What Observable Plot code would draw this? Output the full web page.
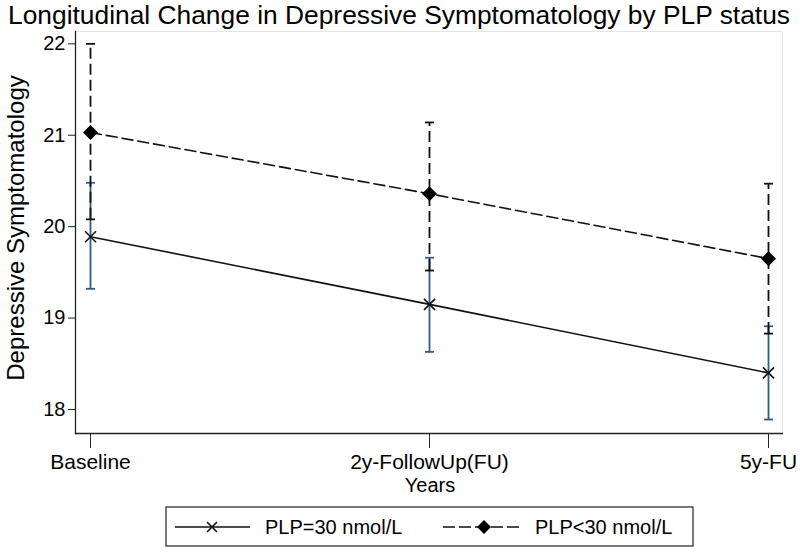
<!DOCTYPE html>
<html>
<head>
<meta charset="utf-8">
<script src="https://cdn.jsdelivr.net/npm/d3@7"></script>
<script src="https://cdn.jsdelivr.net/npm/@observablehq/plot@0.6"></script>
<style>
  html, body { margin: 0; padding: 0; background: #fff; }
  svg { display: block; }
</style>
</head>
<body>
<div id="chart"></div>
<script>
// ---- Data ----
const categories = ["Baseline", "2y-FollowUp(FU)", "5y-FU"];
const seriesNames = ["PLP=30 nmol/L", "PLP<30 nmol/L"];
// PLP=30 nmol/L (solid line, x markers, blue CIs)
const highMean = [19.89, 19.15, 18.40];
const highLo   = [19.32, 18.63, 17.89];
const highHi   = [20.48, 19.66, 18.91];
// PLP<30 nmol/L (dashed line, diamond markers, dashed CIs)
const lowMean  = [21.03, 20.36, 19.65];
const lowLo    = [20.08, 19.52, 18.83];
const lowHi    = [22.00, 21.14, 20.47];
const yTicks   = [18, 19, 20, 21, 22];

const title = "Longitudinal Change in Depressive Symptomatology by PLP status";
const yLabel = "Depressive Symptomatology";
const xLabel = "Years";

// ---- Build tables ----
const high = categories.map((c, i) => ({cat: c, mean: highMean[i], lo: highLo[i], hi: highHi[i]}));
const low  = categories.map((c, i) => ({cat: c, mean: lowMean[i], lo: lowLo[i], hi: lowHi[i]}));

// ---- Custom symbols ----
const capSymbol = { draw(ctx) { ctx.moveTo(-4.5, 0); ctx.lineTo(4.5, 0); } };
const timesSymbol = { draw(ctx) { const h = 5.5; ctx.moveTo(-h, -h); ctx.lineTo(h, h); ctx.moveTo(-h, h); ctx.lineTo(h, -h); } };
const diamondSymbol = { draw(ctx) { const h = 7.5; ctx.moveTo(0, -h); ctx.lineTo(h, 0); ctx.lineTo(0, h); ctx.lineTo(-h, 0); ctx.closePath(); } };

const FONT = "'Liberation Sans', Arial, Helvetica, sans-serif";
const blue = "#2f5d88";
const dash = "11,5";

const svg = Plot.plot({
  width: 800,
  height: 553,
  marginTop: 31,
  marginBottom: 120,
  marginLeft: 75,
  marginRight: 18,
  style: { fontFamily: FONT, background: "#fff", color: "#000" },
  x: { type: "point", domain: categories, padding: 0.04, label: null },
  y: { domain: [17.737, 22.135], label: null },
  marks: [
    Plot.frame({ stroke: "#e6e6e6", strokeWidth: 1 }),
    // axes
    Plot.axisY({ ticks: yTicks, tickSize: 7, tickPadding: 3, fontSize: 20, tickFormat: d => d, stroke: "#222", color: "#000", label: null }),
    Plot.axisX({ tickSize: 15, tickPadding: 6, fontSize: 21, stroke: "#222", label: null }),
    Plot.frame({ anchor: "left", stroke: "#222", strokeWidth: 1.3 }),
    Plot.frame({ anchor: "bottom", stroke: "#222", strokeWidth: 1.3 }),
    // PLP=30 CIs (blue)
    Plot.ruleX(high, { x: "cat", y1: "lo", y2: "hi", stroke: blue, strokeWidth: 1.8 }),
    Plot.dot(high, { x: "cat", y: "lo", symbol: capSymbol, stroke: blue, strokeWidth: 1.8, r: 4 }),
    Plot.dot(high, { x: "cat", y: "hi", symbol: capSymbol, stroke: blue, strokeWidth: 1.8, r: 4 }),
    // PLP=30 line
    Plot.line(high, { x: "cat", y: "mean", stroke: "#111", strokeWidth: 1.6 }),
    Plot.dot(high, { x: "cat", y: "mean", symbol: timesSymbol, stroke: "#111", strokeWidth: 1.6, r: 4 }),
    // PLP<30 CIs (dashed black)
    Plot.ruleX(low, { x: "cat", y1: "lo", y2: "hi", stroke: "#111", strokeWidth: 1.8, strokeDasharray: dash }),
    Plot.dot(low, { x: "cat", y: "lo", symbol: capSymbol, stroke: "#111", strokeWidth: 1.8, r: 4 }),
    Plot.dot(low, { x: "cat", y: "hi", symbol: capSymbol, stroke: "#111", strokeWidth: 1.8, r: 4 }),
    // PLP<30 line
    Plot.line(low, { x: "cat", y: "mean", stroke: "#111", strokeWidth: 1.6, strokeDasharray: dash }),
    Plot.dot(low, { x: "cat", y: "mean", symbol: diamondSymbol, fill: "#000", stroke: "none", r: 4 })
  ]
});

document.getElementById("chart").appendChild(svg);

// ---- Titles and legend (real text) ----
const s = d3.select(svg);
s.append("text")
  .attr("x", 8).attr("y", 24)
  .attr("text-anchor", "start")
  .attr("font-family", FONT).attr("font-size", 26).attr("fill", "#000")
  .attr("textLength", 782).attr("lengthAdjust", "spacingAndGlyphs")
  .text(title);

s.append("text")
  .attr("transform", "translate(24,228) rotate(-90)")
  .attr("text-anchor", "middle")
  .attr("font-family", FONT).attr("font-size", 24).attr("fill", "#000")
  .text(yLabel);

s.append("text")
  .attr("x", 430).attr("y", 492)
  .attr("text-anchor", "middle")
  .attr("font-family", FONT).attr("font-size", 20).attr("fill", "#000")
  .text(xLabel);

// legend
const lg = s.append("g").attr("text-anchor", "start");
lg.append("rect").attr("x", 166).attr("y", 507).attr("width", 527).attr("height", 39)
  .attr("fill", "#fff").attr("stroke", "#333").attr("stroke-width", 1.3);
lg.append("line").attr("x1", 175).attr("x2", 250).attr("y1", 527).attr("y2", 527)
  .attr("stroke", "#111").attr("stroke-width", 1.6);
lg.append("path").attr("transform", "translate(212,527)")
  .attr("d", "M-5,-5L5,5M-5,5L5,-5").attr("stroke", "#111").attr("stroke-width", 1.6);
lg.append("text").attr("x", 265).attr("y", 534).attr("text-anchor", "start")
  .attr("font-family", FONT).attr("font-size", 20).attr("fill", "#000").text(seriesNames[0]);
lg.append("line").attr("x1", 443).attr("x2", 522).attr("y1", 527).attr("y2", 527)
  .attr("stroke", "#111").attr("stroke-width", 1.6).attr("stroke-dasharray", "12,4");
lg.append("path").attr("transform", "translate(484,527)")
  .attr("d", "M0,-7L7,0L0,7L-7,0Z").attr("fill", "#000");
lg.append("text").attr("x", 535).attr("y", 534).attr("text-anchor", "start")
  .attr("font-family", FONT).attr("font-size", 20).attr("fill", "#000").text(seriesNames[1]);
</script>
</body>
</html>
